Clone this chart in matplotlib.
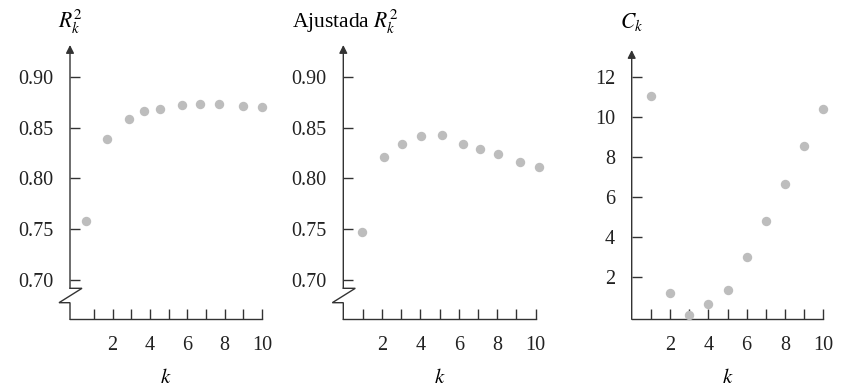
import numpy as np
import matplotlib
matplotlib.use("Agg")
import matplotlib.pyplot as plt

plt.rcParams['font.family'] = ['Liberation Serif', 'DejaVu Serif']
plt.rcParams['mathtext.fontset'] = 'stix'

# datos
k_r2 = [0.56, 1.71, 2.86, 3.70, 4.56, 5.70, 6.70, 7.70, 8.98, 10.0]
r2 = [0.758, 0.839, 0.858, 0.866, 0.868, 0.872, 0.873, 0.873, 0.871, 0.870]

k_adj = [0.96, 2.09, 3.06, 4.04, 5.15, 6.24, 7.11, 8.06, 9.16, 10.15]
r2_adj = [0.7475, 0.821, 0.834, 0.842, 0.843, 0.834, 0.829, 0.824, 0.816, 0.811]

k_cp = [1, 2, 3, 4, 5, 6, 7, 8, 9, 10]
cp = [11.05, 1.2, 0.1, 0.65, 1.32, 2.97, 4.78, 6.65, 8.52, 10.38]

k_ticks = list(range(1, 11))
k_labels = ['', '2', '', '4', '', '6', '', '8', '', '10']
r_ticks = [0.70, 0.75, 0.80, 0.85, 0.90]
r_labels = ['0.70', '0.75', '0.80', '0.85', '0.90']
c_ticks = [2, 4, 6, 8, 10, 12]

W, H = 843, 387
line_c = '#333333'
dot_c = '#bdbdbd'

fig = plt.figure(figsize=(W / 100, H / 100), dpi=100)


def make_ax(x0, x1, y_top, y_bot):
    # posiciones en pixeles -> fraccion de figura
    return fig.add_axes([x0 / W, 1 - y_bot / H, (x1 - x0) / W, (y_bot - y_top) / H])


def style(ax, brk):
    for s in ['top', 'right', 'left']:
        ax.spines[s].set_visible(False)
    ax.spines['bottom'].set_color(line_c)
    ax.spines['bottom'].set_linewidth(1.0)
    ax.tick_params(direction='in', length=7, width=1.0, color=line_c,
                   labelsize=14.5, labelcolor='#222222')
    ax.tick_params(axis='y', pad=12)
    ax.tick_params(axis='x', pad=12)
    ax.set_xticks(k_ticks)
    ax.set_xticklabels(k_labels)
    ax.set_xlabel('$k$', fontsize=15, labelpad=10)
    h_px = ax.get_position().height * H
    w_px = ax.get_position().width * W
    start = 0.0
    if brk:
        b_top = 31.0 / h_px
        b_bot = 16.6 / h_px
        dx_r = 12.0 / w_px
        dx_l = -11.0 / w_px
        ax.plot([0, dx_r, dx_l, 0, 0], [b_top, b_top, b_bot, b_bot, 0],
                transform=ax.transAxes, color=line_c, lw=1.0, clip_on=False,
                solid_joinstyle='miter')
        start = b_top
    ax.annotate('', xy=(0, 1), xytext=(0, start), xycoords='axes fraction',
                arrowprops=dict(arrowstyle='-|>', color=line_c, lw=1.0,
                                shrinkA=0, shrinkB=0, mutation_scale=12))


# panel 1
ax1 = make_ax(70, 262, 45, 319.3)
ax1.scatter(k_r2, r2, s=46, color=dot_c, linewidths=0, zorder=3, clip_on=False)
ax1.set_xlim(-0.286, 10)
ax1.set_ylim(0.6614, 0.9312)
ax1.set_yticks(r_ticks)
ax1.set_yticklabels(r_labels)
style(ax1, True)
fig.text(70 / W, 1 - 22 / H, '$R_k^2$', fontsize=15.5, ha='center', va='center')

# panel 2
ax2 = make_ax(343.3, 535.7, 45, 319.3)
ax2.scatter(k_adj, r2_adj, s=46, color=dot_c, linewidths=0, zorder=3, clip_on=False)
ax2.set_xlim(0, 10)
ax2.set_ylim(0.6614, 0.9312)
ax2.set_yticks(r_ticks)
ax2.set_yticklabels(r_labels)
style(ax2, True)
fig.text(292 / W, 1 - 22 / H, 'Ajustada $R_k^2$', fontsize=15.5, ha='left', va='center')

# panel 3
ax3 = make_ax(631.7, 823.3, 50, 319.3)
ax3.scatter(k_cp, cp, s=46, color=dot_c, linewidths=0, zorder=3, clip_on=False)
ax3.set_xlim(0, 10)
ax3.set_ylim(-0.13, 13.33)
ax3.set_yticks(c_ticks)
style(ax3, False)
fig.text(631.7 / W, 1 - 22 / H, '$C_k$', fontsize=15.5, ha='center', va='center')

fig.savefig('out.png', dpi=100, facecolor='white')
